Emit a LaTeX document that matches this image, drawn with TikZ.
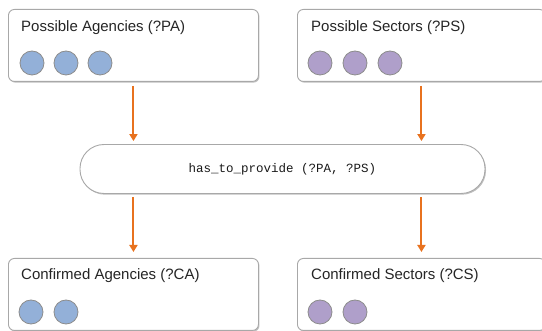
\documentclass[tikz,border=0pt]{standalone}
\usepackage{fontspec}
\setmainfont{Liberation Sans}
\newfontfamily\codefont{Liberation Mono}
\usetikzlibrary{arrows.meta,shadows}
\definecolor{frame}{HTML}{A8A8A8}
\definecolor{flow}{HTML}{E8721F}
\definecolor{agency}{HTML}{93B0D8}
\definecolor{sector}{HTML}{AF9FCA}
\definecolor{dotline}{HTML}{8C8C8C}
\tikzset{
  panel/.style={draw=frame, line width=0.9pt, rounded corners=6pt, fill=white,
    anchor=north west, inner sep=0pt,
    drop shadow={shadow xshift=1pt, shadow yshift=-1.2pt, fill=black, opacity=0.25}},
  title/.style={anchor=west, inner sep=0pt, font=\fontsize{15}{17}\selectfont, text=black!85},
  dot/.style={circle, draw=dotline, line width=0.8pt, minimum size=24pt, inner sep=0pt},
  adot/.style={dot, fill=agency},
  sdot/.style={dot, fill=sector},
  pill/.style={draw=frame, line width=0.9pt, rounded corners=24pt, fill=white,
    minimum width=405pt, minimum height=49pt, inner sep=0pt,
    font=\codefont\fontsize{12.5}{14}\selectfont, text=black!90,
    drop shadow={shadow xshift=1pt, shadow yshift=-1.2pt, fill=black, opacity=0.25}},
  flowarrow/.style={color=flow, line width=2pt, -{Triangle[width=8pt,length=7pt]}}
}
\begin{document}
\begin{tikzpicture}[x=1pt,y=-1pt]
  \useasboundingbox (0,0) rectangle (542,331);
  \clip (0,0) rectangle (542,331);

  % upper panels
  \node[panel, minimum width=250pt, minimum height=72pt] (pa) at (8,9) {};
  \node[title] (pat) at (21,28) {Possible Agencies (?PA)};
  \node[adot] (pa1) at (32,63) {};
  \node[adot] (pa2) at (66,63) {};
  \node[adot] (pa3) at (100,63) {};

  \node[panel, minimum width=248pt, minimum height=72pt] (ps) at (297,9) {};
  \node[title] (pst) at (311,28) {Possible Sectors (?PS)};
  \node[sdot] (ps1) at (320,63) {};
  \node[sdot] (ps2) at (355,63) {};
  \node[sdot] (ps3) at (390,63) {};

  % relation in the middle
  \node[pill] (hp) at (282.5,169) {has\_to\_provide (?PA, ?PS)};

  % lower panels
  \node[panel, minimum width=250pt, minimum height=72pt] (ca) at (8,258) {};
  \node[title] (cat) at (21,276) {Confirmed Agencies (?CA)};
  \node[adot] (ca1) at (31,312) {};
  \node[adot] (ca2) at (66,312) {};

  \node[panel, minimum width=248pt, minimum height=72pt] (cs) at (297,258) {};
  \node[title] (cst) at (311,276) {Confirmed Sectors (?CS)};
  \node[sdot] (cs1) at (320,312) {};
  \node[sdot] (cs2) at (355,312) {};

  % flow arrows
  \draw[flowarrow, shorten <=4pt, shorten >=3pt] (pa.south) -- (pa.south |- hp.north);
  \draw[flowarrow, shorten <=4pt, shorten >=3pt] (ps.south) -- (ps.south |- hp.north);
  \draw[flowarrow, shorten <=3pt, shorten >=6pt] (hp.south -| ca.south) -- (ca.north);
  \draw[flowarrow, shorten <=3pt, shorten >=6pt] (hp.south -| cs.south) -- (cs.north);
\end{tikzpicture}
\end{document}
